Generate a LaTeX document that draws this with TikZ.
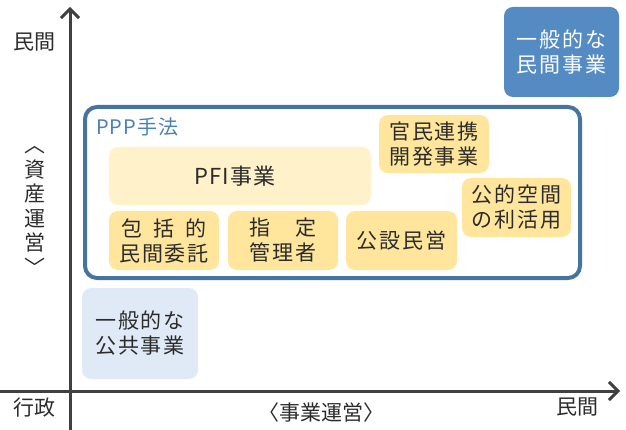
\documentclass[tikz,border=0pt]{standalone}
\usepackage{fontspec}
\newfontfamily\cjk[LetterSpace=9]{Noto Sans CJK JP}
\newfontfamily\cjkplain{Noto Sans CJK JP}
\newfontfamily\cjkwide[LetterSpace=5]{Noto Sans CJK JP}
\usetikzlibrary{arrows.meta}
\definecolor{axisgray}{HTML}{404040}
\definecolor{txtgray}{HTML}{2B2B2B}
\definecolor{pppblue}{HTML}{4674A0}
\definecolor{ppptext}{HTML}{4A80B8}
\definecolor{pfiyellow}{HTML}{FFF1C9}
\definecolor{boxyellow}{HTML}{FFE69C}
\definecolor{darkblue}{HTML}{538BC2}
\definecolor{paleblue}{HTML}{DFEAF6}
\begin{document}
\begin{tikzpicture}[x=1pt,y=-1pt]
	\tikzstyle{scheme} = [rounded corners=9pt,inner sep=0pt,text=txtgray,align=center,
		font=\cjk\fontsize{21}{25}\selectfont]
	\tikzstyle{axislabel} = [inner sep=0pt,text=txtgray,font=\cjkplain\fontsize{21}{24}\selectfont]
	\useasboundingbox (0,0) rectangle (626,430);
	% axes
	\coordinate (ybottom) at (70,430);
	\coordinate (ytop) at (70,7);
	\coordinate (xleft) at (0,391);
	\coordinate (xright) at (620,391);
	\draw[axisgray,line width=3pt,-{Straight Barb[length=9pt,width=18pt]}] (ybottom) -- (ytop);
	\draw[axisgray,line width=3pt,-{Straight Barb[length=9pt,width=18pt]}] (xleft) -- (xright);
	% axis labels
	\node[axislabel] (yhigh) at (34,42) {民間};
	\node[axislabel] (xlow) at (34,408) {行政};
	\node[axislabel] (xhigh) at (577,407) {民間};
	\node[axislabel] (xname) at (321,413) {〈事業運営〉};
	\node[axislabel,align=center,font=\cjkplain\fontsize{21}{24.5}\selectfont] (yname) at (35,211) {︿\\資\\産\\運\\営\\﹀};
	% PPP frame
	\node[draw=pppblue,line width=4pt,rounded corners=12pt,minimum width=495pt,minimum height=171pt]
		(ppp) at (332.5,192.5) {};
	\node[anchor=west,inner sep=0pt,text=ppptext,font=\cjkwide\fontsize{20}{24}\selectfont]
		(ppplabel) at (96,127) {PPP手法};
	% schemes inside the frame
	\node[scheme,fill=pfiyellow,minimum width=262pt,minimum height=58pt,font=\cjkwide\fontsize{22}{25}\selectfont]
		(pfi) at (240,176) {PFI事業\hspace{10pt}};
	\node[scheme,fill=boxyellow,minimum width=110pt,minimum height=59pt] (hokatsu) at (164,240.5)
		{包\hspace{11pt}括\hspace{11pt}的\\民間委託};
	\node[scheme,fill=boxyellow,minimum width=110pt,minimum height=59pt] (shitei) at (283,240.5)
		{指　定\\管理者};
	\node[scheme,fill=boxyellow,minimum width=111pt,minimum height=59pt] (kosetsu) at (401.5,240.5) {公設民営};
	\node[scheme,fill=boxyellow,minimum width=110pt,minimum height=58pt] (kanmin) at (434,144)
		{官民連携\\開発事業};
	\node[scheme,fill=boxyellow,minimum width=109pt,minimum height=59pt] (koteki) at (516.5,207.5)
		{公的空間\\の利活用};
	% outside the frame
	\node[scheme,fill=darkblue,text=white,minimum width=115pt,minimum height=90pt] (minkan) at (561.5,52)
		{一般的な\\民間事業};
	\node[scheme,fill=paleblue,minimum width=116pt,minimum height=91pt] (kokyo) at (140,333.5)
		{一般的な\\公共事業};
\end{tikzpicture}
\end{document}
